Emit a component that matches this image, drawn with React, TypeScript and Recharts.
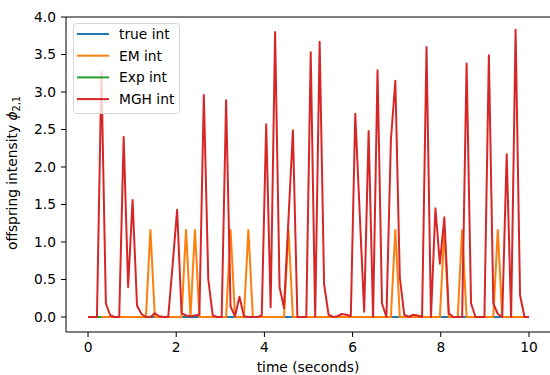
import { LineChart, Line, XAxis, YAxis, Legend, ReferenceLine } from "recharts";

// 100 samples on 0..10 s (np.linspace(0, 10, 100))
const mghInt = [
  0, 0, 0, 3.27, 0.18, 0.02, 0, 0, 2.4, 0.4,
  1.56, 0.15, 0.04, 0, 0, 0.05, 0.01, 0, 0, 0.7,
  1.43, 0.05, 0.02, 0.01, 0.02, 0.03, 2.96, 0.5, 0.02, 0,
  0, 2.89, 0.14, 0.01, 0.27, 0.01, 0, 0, 0, 0.02,
  2.57, 0.13, 3.8, 0.4, 0.12, 1.3, 2.49, 0, 0, 0,
  3.53, 0, 3.67, 0.44, 0.03, 0, 0.01, 0.04, 0.03, 0.01,
  2.71, 1.38, 0.07, 2.48, 0, 3.29, 0.18, 0, 2.36, 3.15,
  0.53, 0.03, 0, 0.03, 0.02, 0, 3.6, 0, 1.45, 0.71,
  1.33, 0.05, 0, 0, 0, 3.38, 0.18, 0, 0, 0,
  3.49, 0.18, 0.04, 0, 2.17, 0, 3.83, 0.29, 0, 0,
];

// only the first few samples of the Exp curve are on screen
const expInt = [0, 0, 0, 0];

const emInt = [
  0, 0, 0, 0, 0, 0, 0, 0, 0, 0,
  0, 0, 0, 0, 1.17, 0, 0, 0, 0, 0,
  0, 0, 1.17, 0, 1.17, 0, 0, 0, 0, 0,
  0, 0, 1.17, 0, 0, 0, 1.17, 0, 0, 0,
  0, 0, 0, 0, 0, 1.17, 0, 0, 0, 0,
  0, 0, 0, 0, 0, 0, 0, 0, 0, 0,
  0, 0, 0, 0, 0, 0, 0, 0, 0, 1.17,
  0, 0, 0, 0, 0, 0, 0, 0, 0, 0,
  1.17, 0, 0, 0, 1.17, 0, 0, 0, 0, 0,
  0, 0, 1.17, 0, 0, 0, 0, 0, 0, 0,
];

const trueInt = [
  0, 0, 0, 0, 0, 0, 0, 0, 0, 0, 0, 0, 0, 0, 0, 0, 0, 0, 0, 0,
  0, 0, 0, 0, 0, 0, 0, 0, 0, 0, 0, 0, 0, 0, 0, 0, 0, 0, 0, 0,
  0, 0, 0, 0, 0, 0, 0, 0, 0, 0, 0, 0, 0, 0, 0, 0, 0, 0, 0, 0,
  0, 0, 0, 0, 0, 0, 0, 0, 0, 0, 0, 0, 0, 0, 0, 0, 0, 0, 0, 0,
  0, 0, 0, 0, 0, 0, 0, 0, 0, 0, 0, 0, 0, 0, 0, 0, 0, 0, 0, 0,
];

const seriesNames = ["true int", "EM int", "Exp int", "MGH int"];
const xTicks = [0, 2, 4, 6, 8, 10];
const yTicks = [0, 0.5, 1, 1.5, 2, 2.5, 3, 3.5, 4];

const rows = mghInt.map((v, i) => ({
  t: (i * 10) / 99,
  trueInt: trueInt[i],
  emInt: emInt[i],
  expInt: i < expInt.length ? expInt[i] : null,
  mghInt: v,
}));

const F = "DejaVu Sans";
const FS = 13.8;

function Key({ payload }: any) {
  const items = [...(payload || [])].sort(
    (a: any, b: any) => seriesNames.indexOf(a.value) - seriesNames.indexOf(b.value)
  );
  return (
    <svg width={108} height={92} style={{ display: "block" }}>
      <rect x={0.5} y={0.5} width={106} height={90} rx={3} fill="#fff" fillOpacity={0.8} stroke="#d6d6d6" />
      {items.map((p: any, i: number) => {
        const y = 11 + i * 21.7;
        return (
          <g key={p.value}>
            <line x1={4} x2={36} y1={y} y2={y} stroke={p.color} strokeWidth={2} />
            <text x={46} y={y} dominantBaseline="central" fontFamily={F} fontSize={FS} fill="#000">
              {p.value}
            </text>
          </g>
        );
      })}
    </svg>
  );
}

const tick = { fill: "#000", fontSize: FS, fontFamily: F };

export default function App() {
  return (
    <div style={{ position: "absolute", left: 0, top: 0, width: 550, height: 375, overflow: "hidden", background: "#fff" }}>
      <LineChart width={550} height={375} data={rows} margin={{ top: 17, right: -1, bottom: 0, left: 0 }}>
        <XAxis
          dataKey="t"
          type="number"
          domain={[-0.5, 10.5]}
          ticks={xTicks}
          allowDataOverflow
          height={43}
          stroke="#000"
          tickSize={5}
          tickMargin={5}
          tick={tick}
          label={() => (
            <text x={308} y={367} textAnchor="middle" dominantBaseline="central" fontFamily={F} fontSize={FS} fill="#000">
              time (seconds)
            </text>
          )}
        />
        <YAxis
          type="number"
          domain={[-0.2, 4]}
          ticks={yTicks}
          allowDataOverflow
          width={66}
          stroke="#000"
          tickSize={5}
          tickMargin={5}
          tick={tick}
          tickFormatter={(v: number) => v.toFixed(1)}
          label={() => (
            <text transform="translate(16.5,173) rotate(-90)" textAnchor="middle" fontFamily={F} fontSize={FS} fill="#000">
              offspring intensity <tspan fontStyle="italic">ϕ</tspan>
              <tspan fontSize={9.7} dy={3}>2,1</tspan>
            </text>
          )}
        />
        <ReferenceLine y={4} stroke="#000" strokeWidth={1} ifOverflow="visible" />
        <Legend
          layout="horizontal"
          verticalAlign="middle"
          align="center"
          wrapperStyle={{ left: 73, top: 23, width: 108, height: 92 }}
          content={<Key />}
        />
        <Line dataKey="trueInt" name="true int" stroke="#1f77b4" strokeWidth={2} dot={false} activeDot={false} isAnimationActive={false} type="linear" />
        <Line dataKey="emInt" name="EM int" stroke="#ff7f0e" strokeWidth={2} dot={false} activeDot={false} isAnimationActive={false} type="linear" />
        <Line dataKey="expInt" name="Exp int" stroke="#2ca02c" strokeWidth={2} dot={false} activeDot={false} isAnimationActive={false} type="linear" />
        <Line dataKey="mghInt" name="MGH int" stroke="#d62728" strokeWidth={2} dot={false} activeDot={false} isAnimationActive={false} type="linear" strokeLinejoin="round" />
      </LineChart>
    </div>
  );
}
